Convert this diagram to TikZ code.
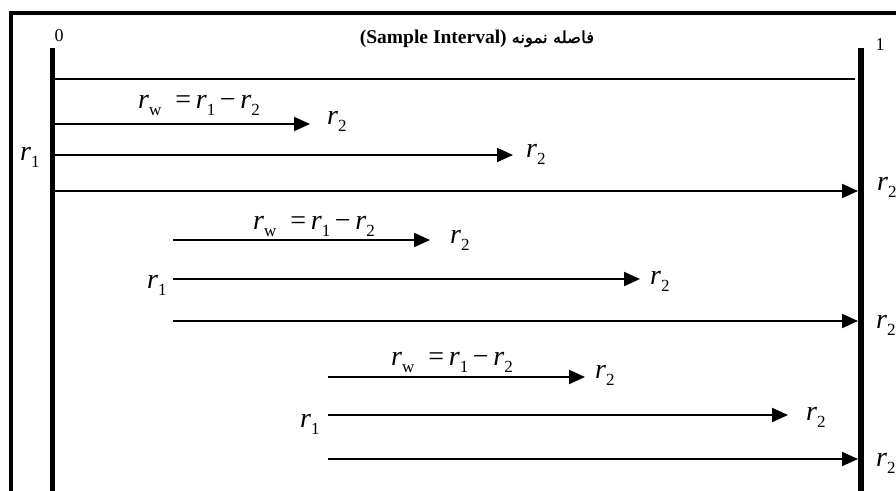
\documentclass[tikz,border=0pt]{standalone}
\usepackage{fontspec}
\setmainfont{Liberation Serif}
\newfontfamily\arabicfont[Script=Arabic,FakeBold=1.5]{DejaVu Sans}
\TeXXeTstate=1
\usetikzlibrary{arrows.meta}
\newcommand{\rs}[1]{\textit{r}\raisebox{-0.25em}{\fontsize{17}{17}\selectfont #1}}
\tikzset{
  lab/.style={font=\fontsize{28}{30}\selectfont, inner sep=0pt, anchor=base west},
  eqlab/.style={font=\fontsize{28}{30}\selectfont, inner sep=0pt, anchor=base},
  arr/.style={line width=2pt, -{Triangle[length=16pt,width=14pt]}},
  bar/.style={line width=5.5pt},
  numlab/.style={font=\fontsize{18}{20}\selectfont, inner sep=0pt}
}
\begin{document}
\begin{tikzpicture}[x=1pt,y=-1pt]
\clip (0,0) rectangle (896,490);
\fill[white] (0,0) rectangle (896,490);
% frame
\draw[line width=4pt] (11,494) -- (11,13) -- (900,13);
% bars
\coordinate (lbtop) at (52.5,48);
\coordinate (lbbot) at (52.5,494);
\coordinate (rbtop) at (860.5,48);
\coordinate (rbbot) at (860.5,494);
\draw[bar] (lbtop) -- (lbbot);
\draw[bar, line width=6pt] (rbtop) -- (rbbot);
% labels 0 and 1
\node[numlab] (zero) at (59,36) {0};
\node[numlab] (one) at (880,45) {1};
% title
\node[anchor=base, inner sep=0pt, font=\fontsize{19.5}{22}\selectfont] (title) at (477,43)
  {\textbf{(Sample Interval)} {\arabicfont\fontsize{16.5}{20}\selectfont\beginR فاصله نمونه\endR}};
% top thin line
\coordinate (hl1) at (55,79);
\coordinate (hl2) at (855,79);
\draw[line width=2pt] (hl1) -- (hl2);

% group 1
\coordinate (a1s) at (55,124);  \coordinate (a1e) at (310,124);
\coordinate (a2s) at (55,155);  \coordinate (a2e) at (513,155);
\coordinate (a3s) at (55,191);  \coordinate (a3e) at (858,191);
\draw[arr] (a1s) -- (a1e);
\draw[arr] (a2s) -- (a2e);
\draw[arr] (a3s) -- (a3e);
\node[eqlab] (eq1) at (199,108) {\rs{w}\ \ =\,\rs{1}\,−\,\rs{2}};
\node[lab] (g1r1) at (20,160) {\rs{1}};
\node[lab] (g1a) at (327,124) {\rs{2}};
\node[lab] (g1b) at (526,157) {\rs{2}};
\node[lab] (g1c) at (877,190) {\rs{2}};

% group 2
\coordinate (a4s) at (173,240);  \coordinate (a4e) at (430,240);
\coordinate (a5s) at (173,279);  \coordinate (a5e) at (640,279);
\coordinate (a6s) at (173,321);  \coordinate (a6e) at (858,321);
\draw[arr] (a4s) -- (a4e);
\draw[arr] (a5s) -- (a5e);
\draw[arr] (a6s) -- (a6e);
\node[eqlab] (eq2) at (314,229) {\rs{w}\ \ =\,\rs{1}\,−\,\rs{2}};
\node[lab] (g2r1) at (147,288) {\rs{1}};
\node[lab] (g2a) at (450,243) {\rs{2}};
\node[lab] (g2b) at (650,284) {\rs{2}};
\node[lab] (g2c) at (876,328) {\rs{2}};

% group 3
\coordinate (a7s) at (328,377);  \coordinate (a7e) at (585,377);
\coordinate (a8s) at (328,415);  \coordinate (a8e) at (788,415);
\coordinate (a9s) at (328,459);  \coordinate (a9e) at (858,459);
\draw[arr] (a7s) -- (a7e);
\draw[arr] (a8s) -- (a8e);
\draw[arr] (a9s) -- (a9e);
\node[eqlab] (eq3) at (452,365) {\rs{w}\ \ =\,\rs{1}\,−\,\rs{2}};
\node[lab] (g3r1) at (300,427) {\rs{1}};
\node[lab] (g3a) at (595,378) {\rs{2}};
\node[lab] (g3b) at (806,420) {\rs{2}};
\node[lab] (g3c) at (876,466) {\rs{2}};
\end{tikzpicture}
\end{document}
